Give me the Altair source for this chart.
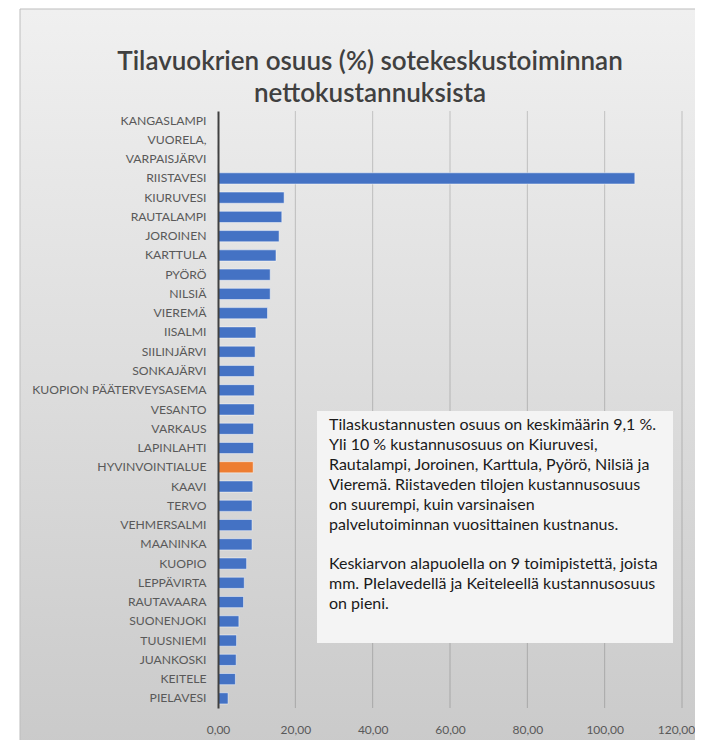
import altair as alt
import pandas as pd

categories = [
    "KANGASLAMPI", "VUORELA,", "VARPAISJÄRVI", "RIISTAVESI", "KIURUVESI",
    "RAUTALAMPI", "JOROINEN", "KARTTULA", "PYÖRÖ", "NILSIÄ", "VIEREMÄ",
    "IISALMI", "SIILINJÄRVI", "SONKAJÄRVI", "KUOPION PÄÄTERVEYSASEMA",
    "VESANTO", "VARKAUS", "LAPINLAHTI", "HYVINVOINTIALUE", "KAAVI", "TERVO",
    "VEHMERSALMI", "MAANINKA", "KUOPIO", "LEPPÄVIRTA", "RAUTAVAARA",
    "SUONENJOKI", "TUUSNIEMI", "JUANKOSKI", "KEITELE", "PIELAVESI",
]
values = [
    0, 0, 0, 107.8, 17.1,
    16.5, 15.8, 15.0, 13.5, 13.5, 12.8,
    9.8, 9.6, 9.4, 9.4,
    9.4, 9.2, 9.2, 9.1, 9.0, 8.8,
    8.8, 8.8, 7.4, 6.8, 6.6,
    5.4, 4.8, 4.7, 4.5, 2.6,
]
highlight = "HYVINVOINTIALUE"
x_ticks = [0, 20, 40, 60, 80, 100, 120]
grid_ticks = [20, 40, 60, 80, 100, 120]
title_lines = ["Tilavuokrien osuus (%) sotekeskustoiminnan", "nettokustannuksista"]
note_par1 = [
    "Tilaskustannusten osuus on keskimäärin 9,1 %.",
    "Yli 10 % kustannusosuus on Kiuruvesi,",
    "Rautalampi, Joroinen, Karttula, Pyörö, Nilsiä ja",
    "Vieremä.  Riistaveden tilojen kustannusosuus",
    "on suurempi, kuin varsinaisen",
    "palvelutoiminnan vuosittainen kustnanus.",
]
note_par2 = [
    "Keskiarvon alapuolella on 9 toimipistettä, joista",
    "mm. PIelavedellä ja Keiteleellä  kustannusosuus",
    "on pieni.",
]

W, H = 464, 597
FONT = "Lato"
LH = 19.9

df = pd.DataFrame({"kunta": categories, "osuus": values})
df["ryhma"] = ["korostus" if c == highlight else "muu" for c in categories]
grid_df = pd.DataFrame({"arvo": grid_ticks})
one = alt.Data(values=[{}])

xscale = alt.Scale(domain=[0, 120], nice=False, zero=True)
x_axis = alt.Axis(
    values=x_ticks, title=None, grid=False, domain=False, ticks=False,
    labelExpr="replace(format(datum.value, '.2f'), '.', ',')",
    labelFont=FONT, labelFontSize=12, labelColor="#595959",
    labelPadding=16, labelFlush=False, zindex=1,
    labelOffset={"condition": {"test": "datum.value == 120", "value": -6}, "value": 0},
)

panel = alt.Chart(one).mark_rect(
    fill=alt.Gradient(
        gradient="linear",
        stops=[alt.GradientStop(color="#f0f0f0", offset=0),
               alt.GradientStop(color="#c9c9c9", offset=1)],
        x1=0, x2=0, y1=0, y2=1,
    ),
    stroke="#bdbdbd", strokeWidth=1,
).encode(x=alt.value(-198), x2=alt.value(W + 40), y=alt.value(-102), y2=alt.value(H + 60))

grid = alt.Chart(grid_df).mark_rule(stroke="#000000", strokeOpacity=0.18, strokeWidth=1).encode(
    x=alt.X("arvo:Q", scale=xscale, axis=x_axis),
    y=alt.value(0), y2=alt.value(H),
)

bars = alt.Chart(df).mark_bar(stroke="#ffffff", strokeWidth=0.8, strokeOpacity=0.6).encode(
    y=alt.Y(
        "kunta:N", sort=categories,
        scale=alt.Scale(paddingInner=0.42),
        axis=alt.Axis(
            title=None, ticks=False, domain=True, domainColor="#404040",
            domainWidth=2, labelFont=FONT, labelFontSize=12.2,
            labelColor="#595959", labelPadding=12, zindex=1,
        ),
    ),
    x=alt.X("osuus:Q", scale=xscale, axis=x_axis),
    color=alt.Color(
        "ryhma:N",
        scale=alt.Scale(domain=["muu", "korostus"], range=["#4472C4", "#ED7D31"]),
        legend=None,
    ),
)

box = alt.Chart(one).mark_rect(fill="#f4f4f4").encode(
    x=alt.value(99), x2=alt.value(455), y=alt.value(300), y2=alt.value(532)
)

note_style = dict(align="left", baseline="top", font=FONT, fontSize=16,
                  lineHeight=LH, color="#1a1a1a")
note1 = alt.Chart(one).mark_text(**note_style).encode(
    x=alt.value(111), y=alt.value(306), text=alt.value(note_par1))
note2 = alt.Chart(one).mark_text(**note_style).encode(
    x=alt.value(111), y=alt.value(306 + 7 * LH), text=alt.value(note_par2))

title = alt.Chart(one).mark_text(
    align="center", baseline="top", font=FONT, fontSize=26, fontWeight=600,
    lineHeight=32, color="#404040",
).encode(x=alt.value(152), y=alt.value(-62), text=alt.value(title_lines))

chart = alt.layer(panel, grid, bars, box, note1, note2, title).properties(
    width=W, height=H,
    padding={"left": 210, "top": 103, "right": 13, "bottom": 32},
    autosize=alt.AutoSizeParams(type="none"),
    background="#ffffff",
).configure_view(stroke=None)

chart.save("out.html", embed_options={"renderer": "svg", "actions": False})
